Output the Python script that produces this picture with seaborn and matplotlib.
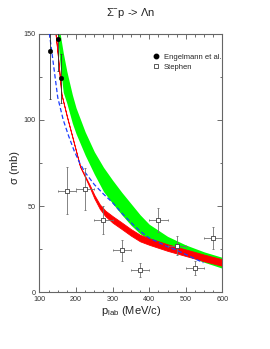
import numpy as np
import pandas as pd
import matplotlib
matplotlib.use("Agg")
import matplotlib.pyplot as plt
from matplotlib.lines import Line2D
from matplotlib.ticker import MultipleLocator
import seaborn as sns

# ---- data ----
eng_p = [130, 150, 160]
eng_sigma = [140, 147, 124]
eng_err = [28, 19, 14]

st_p = [175, 225, 275, 325, 375, 425, 475, 525, 575]
st_sigma = [59, 60, 42, 24.5, 13, 42, 27, 14, 31.5]
st_yerr = [13.5, 12, 8, 6, 4, 7, 5.5, 4, 6.5]
st_xerr = [25, 25, 25, 25, 25, 25, 25, 25, 25]

green_p = [145, 155, 165, 175, 190, 200, 225, 250, 275, 300, 325, 350, 375, 400, 450, 500, 550, 600]
green_lo = [160, 135, 116, 109.5, 98, 92, 79.5, 68.5, 58.5, 51.5, 45, 39, 34, 30.5, 26, 21.5, 17.5, 14]
green_hi = [175, 152, 139, 128, 114.5, 107, 93, 81.5, 72.5, 65, 58, 51.5, 45, 39.5, 32.5, 27.5, 23.5, 20.3]

red_p = [135, 143, 150, 160, 175, 190, 211, 225, 238, 250, 265, 280, 300, 325, 350, 375, 400, 450, 500, 550, 600]
red_lo = [167.8, 151.8, 137.8, 114.8, 101.8, 89.8, 72.8, 66.6, 60.6, 54.5, 48.4, 44.2, 40.4, 36.7, 32.9, 29.6, 27.6, 24.1, 21.1, 18.1, 15.4]
red_hi = [168.2, 152.2, 138.2, 115.2, 102.2, 90.2, 73.2, 67.4, 62.0, 56.5, 51.0, 47.4, 44.2, 40.5, 36.7, 33.4, 31.4, 27.9, 24.9, 21.9, 19.2]

blue_p = [120, 126, 135, 150, 165, 180, 195, 210, 225, 250, 275, 300, 325, 350, 375, 400, 425, 450, 475, 500, 525, 548]
blue_sigma = [162, 152, 137.5, 113, 100, 90.5, 82, 75, 69.5, 62.5, 57, 52, 46, 40.5, 35.5, 31.5, 29, 26.5, 24.5, 22, 19.5, 17.2]

x_ticks = [100, 200, 300, 400, 500, 600]
y_ticks = [0, 50, 100, 150]

# ---- figure ----
sns.set_theme(style="ticks")
plt.rcParams['font.family'] = ['Liberation Sans', 'DejaVu Sans']
plt.rcParams['mathtext.fontset'] = 'custom'
plt.rcParams['mathtext.rm'] = 'Liberation Sans'
plt.rcParams['mathtext.it'] = 'Liberation Sans:italic'

fig = plt.figure(figsize=(2.70, 3.49), dpi=100)
ax = fig.add_axes([0.146, 0.162, 0.678, 0.742])

ax.fill_between(green_p, green_lo, green_hi, color="#00ff00", lw=0, zorder=1)
ax.fill_between(red_p, red_lo, red_hi, color="#ff0000", lw=0.6, edgecolor="#ff0000", zorder=2)

blue_df = pd.DataFrame({"p": blue_p, "sigma": blue_sigma})
sns.lineplot(data=blue_df, x="p", y="sigma", ax=ax, color="#1a3cff", lw=0.9,
             sort=False, estimator=None, zorder=3)
ax.lines[-1].set_dashes([3.5, 2.0])

ax.errorbar(st_p, st_sigma, yerr=st_yerr, xerr=st_xerr, fmt="none",
            ecolor="#707070", elinewidth=0.6, capsize=1.0, capthick=0.6, zorder=4)
ax.errorbar(eng_p, eng_sigma, yerr=eng_err, fmt="none",
            ecolor="#303030", elinewidth=0.6, capsize=1.0, capthick=0.6, zorder=4)

st_df = pd.DataFrame({"p": st_p, "sigma": st_sigma})
eng_df = pd.DataFrame({"p": eng_p, "sigma": eng_sigma})
sns.scatterplot(data=st_df, x="p", y="sigma", ax=ax, marker="s", s=7,
                facecolor="white", edgecolor="#404040", linewidth=0.6, zorder=5)
sns.scatterplot(data=eng_df, x="p", y="sigma", ax=ax, marker="o", s=11,
                color="black", edgecolor="black", linewidth=0.3, zorder=5)

ax.set_xlim(100, 600)
ax.set_ylim(0, 150)
ax.set_xticks(x_ticks)
ax.set_yticks(y_ticks)
ax.xaxis.set_minor_locator(MultipleLocator(25))
ax.yaxis.set_minor_locator(MultipleLocator(25))
ax.tick_params(which="both", direction="in", top=True, right=True,
               colors="#555555", labelcolor="#333333", labelsize=5.2, width=0.6, pad=2.5)
ax.tick_params(which="major", length=3.5)
ax.tick_params(which="minor", length=1.8)
for s in ax.spines.values():
    s.set_color("#666666")
    s.set_linewidth(0.8)

ax.set_xlabel(r"p$_{\rm lab}$ (MeV/c)", fontsize=8, color="#222222", labelpad=1)
ax.set_ylabel("σ (mb)", fontsize=8, color="#222222")
ax.yaxis.set_label_coords(-0.107, 0.483)
fig.text(131 / 270, 1 - 13 / 349, r"$\Sigma^{-}$p -> $\Lambda$n", ha="center", va="center",
         fontsize=8, color="#222222")

handles = [
    Line2D([], [], ls="none", marker="o", ms=3.2, color="black"),
    Line2D([], [], ls="none", marker="s", ms=2.6, mfc="white", mec="#404040", mew=0.6),
]
ax.legend(handles, ["Engelmann et al.", "Stephen"], frameon=False, loc="upper left",
          bbox_to_anchor=(0.6, 0.935), fontsize=5.5, handlelength=1.0,
          handletextpad=0.5, labelspacing=0.35, borderaxespad=0)

fig.savefig("out.png", dpi=100)
